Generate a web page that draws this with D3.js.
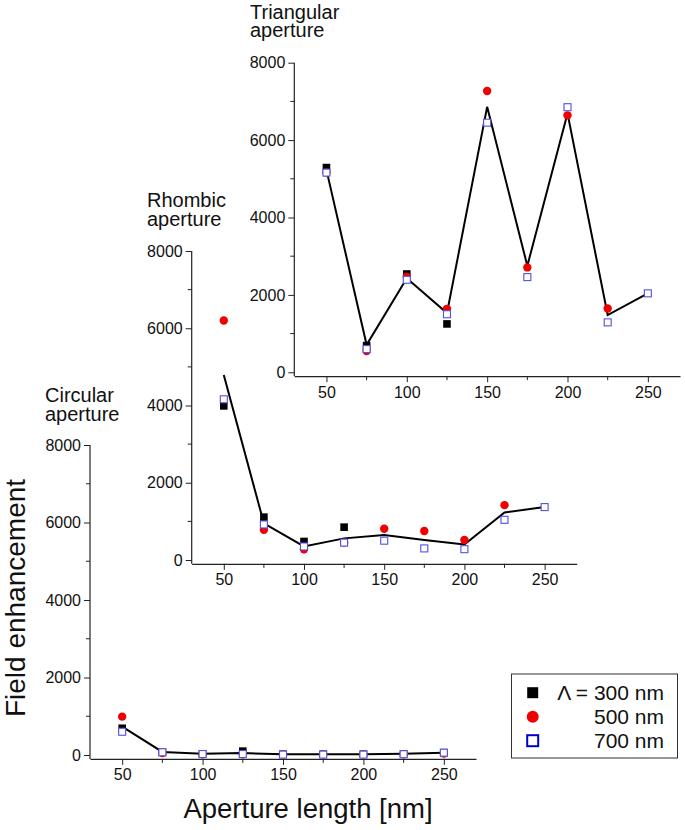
<!DOCTYPE html>
<html><head><meta charset="utf-8">
<script src="https://cdn.jsdelivr.net/npm/d3@7"></script>
<style>
html,body{margin:0;padding:0;background:#fff;}
svg{display:block;font-family:"Liberation Sans",Arial,sans-serif;}
</style></head>
<body>
<svg id="chart" width="685" height="830"></svg>
<script>
const xVals = [50, 75, 100, 125, 150, 175, 200, 225, 250];
const xTicks = [50, 100, 150, 200, 250];
const xMinor = [75, 125, 175, 225];
const yTicks = [0, 2000, 4000, 6000, 8000];
const yMinor = [1000, 3000, 5000, 7000];

// Triangular aperture
const tri300 = [5290, 690, 2540, 1250, null, null, null, null, null];
const tri500 = [5160, 550, 2470, 1640, 7270, 2710, 6640, 1650, null];
const tri700 = [5160, 600, 2390, 1500, 6450, 2460, 6850, 1290, 2040];
const triLine = [5230, 710, 2430, 1530, 6860, 2750, 6690, 1480, 2040];

// Rhombic aperture
const rh300 = [3990, 1110, 480, 850, null, null, null, null, null];
const rh500 = [6200, 780, 280, 450, 810, 750, 520, 1420, null];
const rh700 = [4160, 920, 350, 450, 500, 300, 280, 1040, 1370];
const rhLine = [4790, 950, 350, 560, 650, 520, 400, 1230, 1370];

// Circular aperture
const ci300 = [690, 70, 30, 100, 20, 20, 20, 30, 60];
const ci500 = [990, 50, 20, 20, 10, 10, 10, 20, 40];
const ci700 = [600, 70, 25, 25, 10, 10, 10, 20, 60];
const ciLine = [730, 80, 30, 50, 20, 20, 20, 30, 60];

const legendLabels = ["\u039B = 300 nm", "500 nm", "700 nm"];

const svg = d3.select("#chart");
const axisColor = "#222";

const panels = [
  {title: ["Circular", "aperture"], tx: 45, ty: 402, x0: 90, x1: 476, yTop: 445, yZero: 755,
   s300: ci300, s500: ci500, s700: ci700, line: ciLine},
  {title: ["Rhombic", "aperture"], tx: 147, ty: 207, x0: 191.7, x1: 576.7, yTop: 251, yZero: 560,
   s300: rh300, s500: rh500, s700: rh700, line: rhLine},
  {title: ["Triangular", "aperture"], tx: 250, ty: 18.5, x0: 294.3, x1: 680, yTop: 62.7, yZero: 372.3,
   s300: tri300, s500: tri500, s700: tri700, line: triLine}
];

panels.forEach(p => {
  const g = svg.append("g");
  const x = d3.scaleLinear().domain([30, 270]).range([p.x0, p.x1]);
  const ppu = (p.yZero - p.yTop) / 8000;
  const y = d3.scaleLinear().domain([-100, 8000]).range([p.yZero + 100 * ppu, p.yTop]);

  // title (two lines)
  p.title.forEach((s, i) => {
    g.append("text").attr("x", p.tx).attr("y", p.ty + i * 18.5)
      .attr("font-size", 20).attr("fill", "#111").text(s);
  });

  // x axis
  const xAxis = d3.axisBottom(x).tickValues(xTicks).tickFormat(d3.format("d"))
    .tickSize(6).tickPadding(4).tickSizeOuter(0);
  const xg = g.append("g").attr("transform", `translate(0,${y(-100)})`).call(xAxis);
  xg.attr("font-family", null).attr("font-size", null);
  xg.selectAll(".tick line").attr("stroke", axisColor);
  xg.selectAll(".tick text").attr("font-size", 16).attr("fill", "#111");
  xg.select(".domain").attr("stroke", axisColor).attr("stroke-width", 1.2);
  xg.selectAll(".minor").data(xMinor).enter().append("line").attr("class", "minor")
    .attr("x1", d => x(d)).attr("x2", d => x(d)).attr("y1", 0).attr("y2", 4).attr("stroke", axisColor);

  // y axis
  const yAxis = d3.axisLeft(y).tickValues(yTicks).tickFormat(d3.format("d"))
    .tickSize(6).tickPadding(3).tickSizeOuter(0);
  const yg = g.append("g").attr("transform", `translate(${p.x0},0)`).call(yAxis);
  yg.attr("font-family", null).attr("font-size", null);
  yg.selectAll(".tick line").attr("stroke", axisColor);
  yg.selectAll(".tick text").attr("font-size", 16).attr("fill", "#111");
  yg.select(".domain").attr("stroke", axisColor).attr("stroke-width", 1.2)
    .attr("d", `M0,${y(8000)}V${y(-100)}`);
  yg.selectAll(".minor").data(yMinor).enter().append("line").attr("class", "minor")
    .attr("y1", d => y(d)).attr("y2", d => y(d)).attr("x1", 0).attr("x2", -4).attr("stroke", axisColor);

  // line
  const lineGen = d3.line().x((d, i) => x(xVals[i])).y(d => y(d));
  g.append("path").attr("d", lineGen(p.line)).attr("fill", "none")
    .attr("stroke", "#000").attr("stroke-width", 2);

  // 300 nm black squares
  g.selectAll(".s300").data(p.s300.map((v, i) => ({x: xVals[i], v})).filter(d => d.v !== null))
    .enter().append("rect")
    .attr("x", d => x(d.x) - 3.8).attr("y", d => y(d.v) - 3.8)
    .attr("width", 7.6).attr("height", 7.6).attr("fill", "#000");

  // 500 nm red circles
  g.selectAll(".s500").data(p.s500.map((v, i) => ({x: xVals[i], v})).filter(d => d.v !== null))
    .enter().append("circle")
    .attr("cx", d => x(d.x)).attr("cy", d => y(d.v)).attr("r", 4.2).attr("fill", "#f00000");

  // 700 nm blue open squares
  g.selectAll(".s700").data(p.s700.map((v, i) => ({x: xVals[i], v})).filter(d => d.v !== null))
    .enter().append("rect")
    .attr("x", d => x(d.x) - 3.5).attr("y", d => y(d.v) - 3.5)
    .attr("width", 7).attr("height", 7).attr("fill", "#fff")
    .attr("stroke", "#5050e8").attr("stroke-width", 1.1);
});

// axis titles
svg.append("text").attr("transform", "translate(25,598) rotate(-90)")
  .attr("text-anchor", "middle").attr("font-size", 28).attr("fill", "#111")
  .text("Field enhancement");
svg.append("text").attr("x", 308).attr("y", 818)
  .attr("text-anchor", "middle").attr("font-size", 27.5).attr("fill", "#111")
  .text("Aperture length [nm]");

// legend
const lg = svg.append("g");
lg.append("rect").attr("x", 511.5).attr("y", 674).attr("width", 166).attr("height", 84)
  .attr("fill", "#fff").attr("stroke", "#333").attr("stroke-width", 1);
const rowsY = [692.7, 716.7, 740.7];
lg.append("rect").attr("x", 532.7 - 5.5).attr("y", rowsY[0] - 5.5).attr("width", 11).attr("height", 11).attr("fill", "#000");
lg.append("circle").attr("cx", 532.7).attr("cy", rowsY[1]).attr("r", 6).attr("fill", "#f00000");
lg.append("rect").attr("x", 532.7 - 5.5).attr("y", rowsY[2] - 5.5).attr("width", 11).attr("height", 11)
  .attr("fill", "#fff").attr("stroke", "#0000cc").attr("stroke-width", 2);
legendLabels.forEach((s, i) => {
  lg.append("text").attr("x", 664).attr("y", rowsY[i] + 7.5).attr("text-anchor", "end")
    .attr("font-size", 21).attr("fill", "#111").text(s);
});
</script>
</body></html>
